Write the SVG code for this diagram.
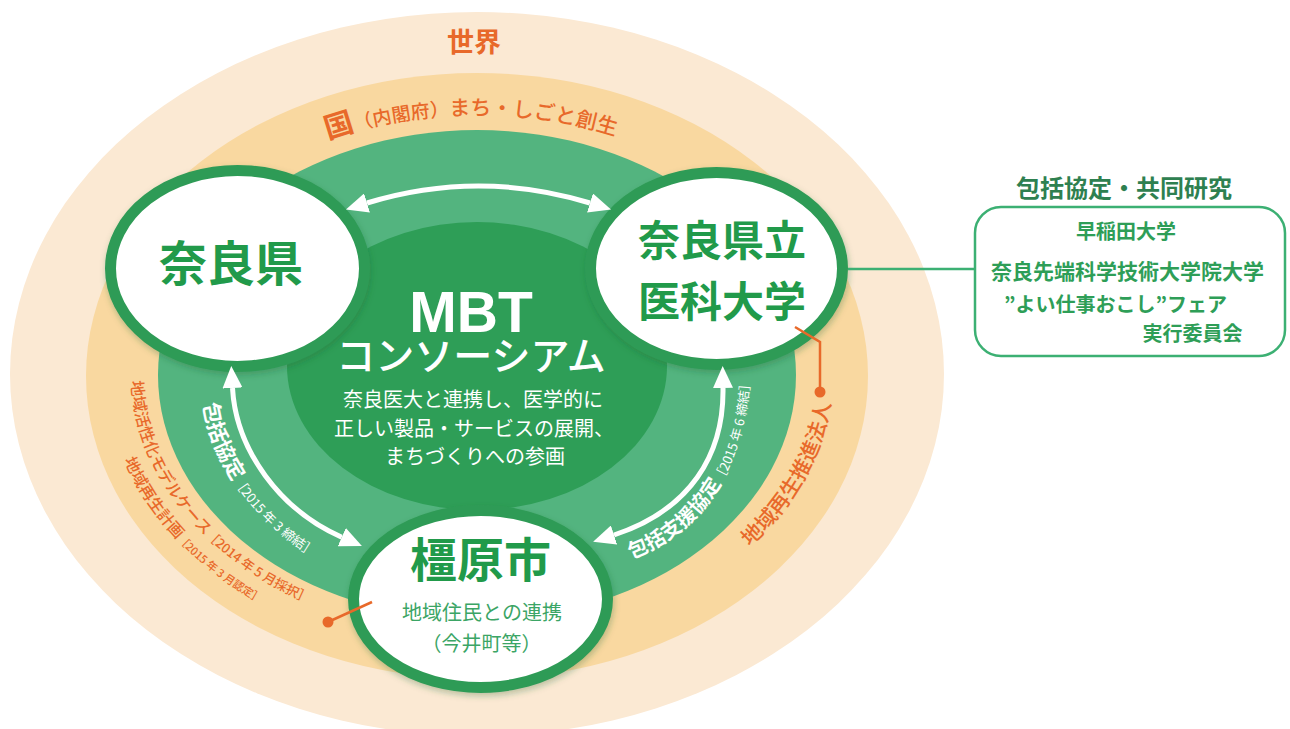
<svg xmlns="http://www.w3.org/2000/svg" width="1290" height="729" viewBox="0 0 1290 729">
<defs>
<style>
text{font-family:'Noto Sans CJK JP','Noto Sans',sans-serif;}
.ring{fill:#ffffff;stroke:#2f9b56;stroke-width:11;}
.ntext{fill:#219a4a;font-weight:700;text-anchor:middle;}
.wt{fill:#ffffff;}
.or{fill:#e8692a;}
.arr{fill:none;stroke:#ffffff;stroke-width:5;marker-start:url(#ah);marker-end:url(#ah);}
.box{fill:#2e9e57;font-weight:600;font-size:20px;text-anchor:middle;}
</style>
<marker id="ah" markerUnits="userSpaceOnUse" markerWidth="22" markerHeight="20" refX="0" refY="10" orient="auto-start-reverse" viewBox="0 0 22 20">
<path d="M0,0 L22,10 L0,20 z" fill="#ffffff"/>
</marker>
<filter id="sh" x="-10%" y="-10%" width="125%" height="130%">
<feDropShadow dx="1" dy="3" stdDeviation="3" flood-color="#1a5e33" flood-opacity="0.3"/>
</filter>
<path id="pKuni" d="M127,372 A350,257 0 0 1 827,372"/>
<path id="pL1" d="M131.2,381.2 A346,265 0 0 0 595.3,621"/>
<path id="pL2" d="M124.2,460.1 A371,285 0 0 0 662.5,618.8"/>
<path id="pR" d="M749.7,546.9 A356,272 0 0 0 820.9,301.6"/>
<path id="pA1" d="M202,390 C205,460 257,530 329,566"/>
<path id="pA2" d="M622,562 C705,535 752,465 751,350"/>
</defs>

<g id="background">
<ellipse cx="477" cy="374" rx="467" ry="362" fill="#fbe9d3"/>
<ellipse cx="477" cy="376" rx="391" ry="303" fill="#f9d8a0"/>
<ellipse cx="477" cy="375" rx="319" ry="245" fill="#53b47f"/>
<ellipse cx="477" cy="366" rx="190" ry="144" fill="#2e9e57"/>
<text x="474" y="52" font-size="27" font-weight="700" text-anchor="middle" class="or">世界</text>
<text class="or" font-weight="500"><textPath href="#pKuni" startOffset="49.4%" text-anchor="middle"><tspan font-size="29" font-weight="700">国</tspan><tspan font-size="19">（内閣府）</tspan><tspan font-size="21">まち・しごと創生</tspan></textPath></text>
</g>

<g id="labels">
<text class="or" font-weight="500"><textPath href="#pL1"><tspan font-size="16">地域活性化モデルケース</tspan><tspan font-size="13">［2014 年 5 月採択］</tspan></textPath></text>
<text class="or" font-weight="500"><textPath href="#pL2"><tspan font-size="16">地域再生計画</tspan><tspan font-size="11">［2015 年 3 月認定］</tspan></textPath></text>
<text class="or" font-weight="500"><textPath href="#pR" font-size="21">地域再生推進法人</textPath></text>
<text class="wt"><textPath href="#pA1" startOffset="14"><tspan font-size="21" font-weight="700">包括協定</tspan><tspan font-size="13">［2015 年 3 締結］</tspan></textPath></text>
<text class="wt"><textPath href="#pA2" startOffset="10"><tspan font-size="20" font-weight="700">包括支援協定</tspan><tspan font-size="13">［2015 年 6 締結］</tspan></textPath></text>
</g>

<g id="mbt">
<text x="471" y="332" font-size="57" font-weight="700" text-anchor="middle" class="wt" style="font-family:'Liberation Sans',sans-serif">MBT</text>
<text x="471" y="370" font-size="39" font-weight="500" text-anchor="middle" class="wt">コンソーシアム</text>
<text x="473" y="407" font-size="20" text-anchor="middle" class="wt">奈良医大と連携し、医学的に</text>
<text x="474" y="436" font-size="20" text-anchor="middle" class="wt">正しい製品・サービスの展開、</text>
<text x="475" y="464" font-size="20" text-anchor="middle" class="wt">まちづくりへの参画</text>
</g>

<g id="node-nara">
<ellipse cx="237.5" cy="268.5" rx="127" ry="98" class="ring" filter="url(#sh)"/>
<text x="231" y="281" font-size="48" class="ntext">奈良県</text>
</g>

<g id="node-idai">
<ellipse cx="716.5" cy="268.5" rx="126" ry="96" class="ring" filter="url(#sh)"/>
<text x="722" y="256" font-size="42" class="ntext">奈良県立</text>
<text x="722" y="317" font-size="42" class="ntext">医科大学</text>
</g>

<g id="node-kashihara">
<ellipse cx="480.5" cy="599" rx="127" ry="88.5" class="ring" filter="url(#sh)"/>
<text x="480.5" y="577" font-size="47" class="ntext">橿原市</text>
<text x="482" y="620" font-size="20" fill="#3ba565" text-anchor="middle">地域住民との連携</text>
<text x="481.5" y="650.5" font-size="20" fill="#3ba565" text-anchor="middle">（今井町等）</text>
</g>

<g id="node-partners">
<text x="1124" y="197" font-size="24" font-weight="700" fill="#2e8050" text-anchor="middle">包括協定・共同研究</text>
<rect x="975" y="207" width="310" height="149" rx="26" fill="#ffffff" stroke="#3cb073" stroke-width="2.5"/>
<text x="1126" y="238.5" class="box">早稲田大学</text>
<text x="1127.5" y="279" class="box" style="font-size:21px">奈良先端科学技術大学院大学</text>
<text x="1115.5" y="312" class="box">”よい仕事おこし”フェア</text>
<text x="1192.5" y="340.5" class="box">実行委員会</text>
</g>

<g id="connectors">
<path class="arr" d="M367,203 Q478.5,169 590,203"/>
<path class="arr" d="M232.5,388 C236,450 280,510 341.8,537.2"/>
<path class="arr" d="M723,388 C724,455 690,510 614,535"/>
<line x1="848" y1="269" x2="975" y2="269" stroke="#3cb073" stroke-width="2.5"/>
<polyline points="795,327 820,342 820,392" fill="none" stroke="#e8692a" stroke-width="2.5"/>
<circle cx="820" cy="392" r="5.5" fill="#e8692a"/>
<line x1="372" y1="602" x2="328" y2="622" stroke="#e8692a" stroke-width="2.5"/>
<circle cx="328" cy="622" r="5.5" fill="#e8692a"/>
</g>
</svg>
